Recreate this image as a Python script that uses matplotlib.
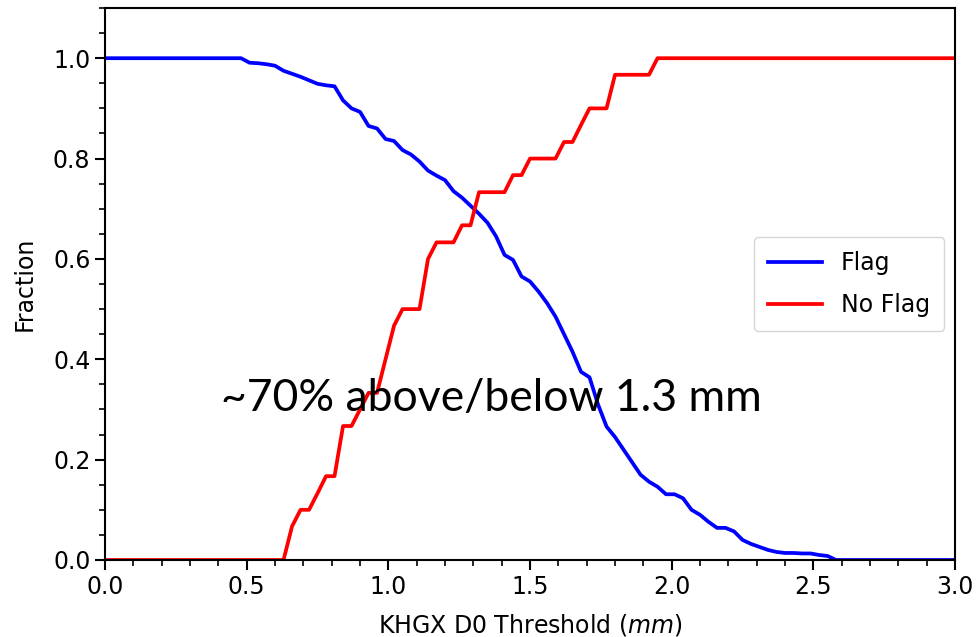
import numpy as np
import matplotlib
matplotlib.use("Agg")
import matplotlib.pyplot as plt
from matplotlib.ticker import MultipleLocator

# D0 thresholds (mm), sampled every 0.03 mm from 0 to 3
thresholds = np.linspace(0.0, 3.0, 101)

# fraction of flagged cases above threshold
flag = [
    1.0, 1.0, 1.0, 1.0, 1.0, 1.0, 1.0, 1.0, 1.0, 1.0,
    1.0, 1.0, 1.0, 1.0, 1.0, 1.0, 1.0, 0.991, 0.990, 0.988,
    0.985, 0.975, 0.969, 0.963, 0.956, 0.949, 0.946, 0.944, 0.916, 0.900,
    0.893, 0.865, 0.860, 0.839, 0.835, 0.817, 0.808, 0.794, 0.776, 0.766,
    0.757, 0.735, 0.722, 0.706, 0.690, 0.672, 0.645, 0.608, 0.598, 0.565,
    0.555, 0.535, 0.512, 0.485, 0.450, 0.415, 0.375, 0.364, 0.310, 0.266,
    0.245, 0.220, 0.195, 0.170, 0.156, 0.146, 0.131, 0.131, 0.123, 0.100,
    0.090, 0.076, 0.064, 0.064, 0.057, 0.040, 0.032, 0.026, 0.020, 0.016,
    0.014, 0.014, 0.013, 0.013, 0.010, 0.008, 0.0, 0.0, 0.0, 0.0,
    0.0, 0.0, 0.0, 0.0, 0.0, 0.0, 0.0, 0.0, 0.0, 0.0,
    0.0,
]

# fraction of non-flagged cases below threshold
no_flag = [
    0.0, 0.0, 0.0, 0.0, 0.0, 0.0, 0.0, 0.0, 0.0, 0.0,
    0.0, 0.0, 0.0, 0.0, 0.0, 0.0, 0.0, 0.0, 0.0, 0.0,
    0.0, 0.0, 0.067, 0.1, 0.1, 0.133, 0.167, 0.167, 0.267, 0.267,
    0.3, 0.333, 0.333, 0.4, 0.467, 0.5, 0.5, 0.5, 0.6, 0.633,
    0.633, 0.633, 0.667, 0.667, 0.733, 0.733, 0.733, 0.733, 0.767, 0.767,
    0.8, 0.8, 0.8, 0.8, 0.833, 0.833, 0.867, 0.9, 0.9, 0.9,
    0.967, 0.967, 0.967, 0.967, 0.967, 1.0, 1.0, 1.0, 1.0, 1.0,
    1.0, 1.0, 1.0, 1.0, 1.0, 1.0, 1.0, 1.0, 1.0, 1.0,
    1.0, 1.0, 1.0, 1.0, 1.0, 1.0, 1.0, 1.0, 1.0, 1.0,
    1.0, 1.0, 1.0, 1.0, 1.0, 1.0, 1.0, 1.0, 1.0, 1.0,
    1.0,
]

plt.rcParams['font.size'] = 17

fig = plt.figure(figsize=(9.78, 6.37), dpi=100)
ax = fig.add_axes([0.1074, 0.1209, 0.8691, 0.8665])

ax.plot(thresholds, flag, color='blue', lw=2.7, label='Flag')
ax.plot(thresholds, no_flag, color='red', lw=2.7, label='No Flag')

ax.set_xlim(0, 3.0)
ax.set_ylim(0, 1.1)
ax.xaxis.set_major_locator(MultipleLocator(0.5))
ax.xaxis.set_minor_locator(MultipleLocator(0.1))
ax.yaxis.set_major_locator(MultipleLocator(0.2))
ax.yaxis.set_minor_locator(MultipleLocator(0.05))
ax.tick_params(which='major', length=7, width=1.5)
ax.tick_params(which='minor', length=4, width=1.2)
for s in ax.spines.values():
    s.set_linewidth(1.5)

ax.set_xlabel("KHGX D0 Threshold ($mm$)", labelpad=10)
ax.set_ylabel("Fraction", labelpad=12)
ax.legend(loc='center right', fontsize=17, handlelength=2.3,
          labelspacing=0.75, borderpad=0.6, handletextpad=0.8,
          borderaxespad=0.45)

ax.text(0.41, 0.322, "~70% above/below 1.3 mm", fontsize=32,
        family=['Lato', 'DejaVu Sans'], va='center', ha='left')

fig.savefig("out.png", dpi=100)
